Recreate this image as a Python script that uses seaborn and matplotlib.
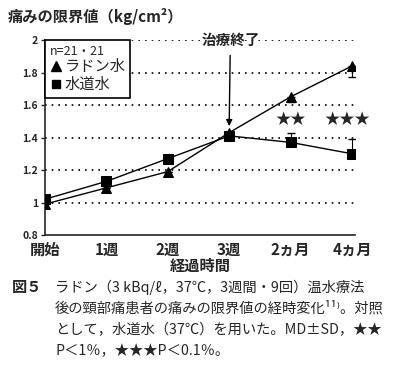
import pandas as pd
import seaborn as sns
import matplotlib.pyplot as plt
from matplotlib.lines import Line2D

# data
time_labels = ['開始', '1週', '2週', '3週', '2ヵ月', '4ヵ月']
radon_values = [0.99, 1.09, 1.19, 1.43, 1.65, 1.84]
tap_values = [1.02, 1.13, 1.27, 1.41, 1.37, 1.30]
radon_sd_down = [0, 0, 0, 0, 0.03, 0.07]
tap_sd_up = [0, 0, 0, 0, 0.06, 0.09]
series_names = ['ラドン水', '水道水']
y_ticks = [0.8, 1.0, 1.2, 1.4, 1.6, 1.8, 2.0]
y_ticklabels = ['0.8', '1', '1.2', '1.4', '1.6', '1.8', '2']

sns.set_style('ticks')
plt.rcParams['font.family'] = ['Noto Sans CJK JP', 'DejaVu Sans']

pos = list(range(len(time_labels)))
data = pd.DataFrame({
    'pos': pos * 2,
    'value': radon_values + tap_values,
    'group': [series_names[0]] * len(pos) + [series_names[1]] * len(pos),
})

fig = plt.figure(figsize=(4.0, 3.76), dpi=100)
ax = fig.add_axes([0.1125, 0.375, 0.775, 0.5186])

sns.lineplot(data=data, x='pos', y='value', style='group',
             markers={'ラドン水': '^', '水道水': 's'}, dashes=False,
             color='black', linewidth=1, markersize=7,
             markeredgecolor='black', legend=False, ax=ax, zorder=3)

# one-sided SD bars
ax.errorbar(pos, radon_values, yerr=[radon_sd_down, [0] * len(pos)], fmt='none',
            ecolor='black', elinewidth=0.8, capsize=3, zorder=3)
ax.errorbar(pos, tap_values, yerr=[[0] * len(pos), tap_sd_up], fmt='none',
            ecolor='black', elinewidth=0.8, capsize=3, zorder=3)

ax.set_xlim(0, 5.05)
ax.set_ylim(0.8, 2.0)
ax.set_xticks(pos)
ax.set_xticklabels(time_labels, fontsize=11, fontweight='bold')
ax.set_yticks(y_ticks)
ax.set_yticklabels(y_ticklabels, fontsize=7.5, fontweight='bold')
ax.tick_params(axis='x', length=0, pad=5)
ax.tick_params(axis='y', length=3, width=1, pad=2)
for t in y_ticks[1:]:
    ax.axhline(t, color='black', linestyle=(0, (1, 3)), linewidth=1.2, zorder=1)
ax.set_xlabel('経過時間', fontsize=11, fontweight='bold', labelpad=0)
ax.set_ylabel('')
sns.despine(ax=ax)
for s in ['left', 'bottom']:
    ax.spines[s].set_linewidth(1.2)

handles = [Line2D([], [], marker='^', color='black', linestyle='none', markersize=7),
           Line2D([], [], marker='s', color='black', linestyle='none', markersize=6)]
leg = ax.legend(handles, series_names, title='n=21・21', loc='upper left',
                bbox_to_anchor=(0, 1), borderaxespad=0, frameon=True, fancybox=False,
                handletextpad=0.2, handlelength=0.8, borderpad=0.3, labelspacing=0.05,
                fontsize=11, title_fontsize=9, alignment='left')
leg.get_frame().set_edgecolor('black')
leg.get_frame().set_linewidth(1.2)
leg.get_frame().set_alpha(1)
leg.set_zorder(5)

ax.annotate('治療終了', xy=(3, 1.47), xytext=(3.02, 2.0), ha='center', va='center',
            fontsize=10.5, fontweight='bold', annotation_clip=False,
            arrowprops=dict(arrowstyle='-|>', color='black', lw=1, mutation_scale=9,
                            shrinkA=3, shrinkB=0))
ax.text(4.0, 1.51, '★★', ha='center', va='center', fontsize=11)
ax.text(4.93, 1.51, '★★★', ha='center', va='center', fontsize=11)

fig.text(0.02, 0.955, '痛みの限界値（kg/cm²）', fontsize=11, fontweight='bold', va='center')

cap_lines = ['ラドン（3 kBq/ℓ，37℃，3週間・9回）温水療法',
             '後の頸部痛患者の痛みの限界値の経時変化¹¹⁾。対照',
             'として，水道水（37℃）を用いた。MD±SD，★★',
             'P＜1％，★★★P＜0.1％。']
fig.text(0.03, 1 - 287 / 376, '図５', fontsize=11, fontweight='bold', va='center')
for i, line in enumerate(cap_lines):
    fig.text(0.1375, 1 - (287 + i * 21.5) / 376, line, fontsize=10.3, va='center')

fig.savefig('out.png', dpi=100)
